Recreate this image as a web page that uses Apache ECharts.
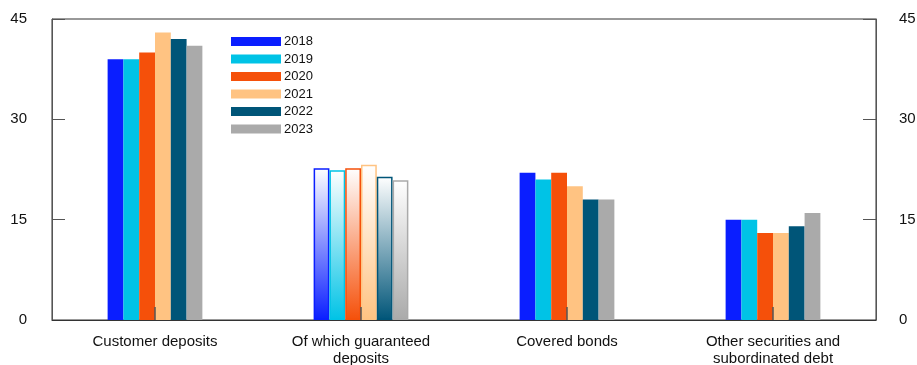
<!DOCTYPE html>
<html>
<head>
<meta charset="utf-8">
<script src="https://cdn.jsdelivr.net/npm/echarts@6/dist/echarts.min.js"></script>
<style>
  html, body { margin: 0; padding: 0; background: #fff; }
  #chart { width: 917px; height: 365px; }
</style>
</head>
<body>
<div id="chart"></div>
<script>
// Funding sources by year, per cent
const categories = ['Customer deposits', 'Of which guaranteed\ndeposits', 'Covered bonds', 'Other securities and\nsubordinated debt'];
const years = ['2018', '2019', '2020', '2021', '2022', '2023'];
const colors = ['#0a1eff', '#00c3e6', '#f5500a', '#ffc382', '#005578', '#aaaaaa'];
const values2018 = [39, 22.7, 22, 15];
const values2019 = [39, 22.4, 21, 15];
const values2020 = [40, 22.7, 22, 13];
const values2021 = [43, 23.2, 20, 13];
const values2022 = [42, 21.4, 18, 14];
const values2023 = [41, 20.9, 18, 16];
const yTicks = [0, 15, 30, 45];

const seriesValues = [values2018, values2019, values2020, values2021, values2022, values2023];
// The guaranteed-deposits bars are a subset, drawn with a faded fill
const subsetIndex = 1;

const fadedFill = (c) => ({
  type: 'linear', x: 0, y: 0, x2: 0, y2: 1,
  colorStops: [{ offset: 0, color: '#ffffff' }, { offset: 1, color: c }]
});

const series = years.map((y, i) => ({
  name: y,
  type: 'bar',
  barGap: '0%',
  barCategoryGap: '54%',
  itemStyle: { color: colors[i] },
  data: seriesValues[i].map((v, j) => j === subsetIndex
    ? { value: v, itemStyle: { color: fadedFill(colors[i]), borderColor: colors[i], borderWidth: 1.5 } }
    : v)
}));

const font = 'Liberation Sans, Arial, Helvetica, sans-serif';
const yAxisBase = {
  type: 'value', min: yTicks[0], max: yTicks[yTicks.length - 1], interval: 15,
  splitLine: { show: false },
  axisLine: { show: true, lineStyle: { color: '#555', width: 1 } },
  axisTick: { show: true, inside: true, length: 13, lineStyle: { color: '#555' } },
  axisLabel: { color: '#111', fontSize: 15, fontFamily: font }
};

const chart = echarts.init(document.getElementById('chart'), null, { renderer: 'canvas' });
chart.setOption({
  animation: false,
  color: colors,
  grid: {
    left: 52, right: 41, top: 19, bottom: 45,
    containLabel: false, outerBoundsMode: 'none',
    show: true, borderColor: '#333', borderWidth: 1, backgroundColor: 'transparent'
  },
  legend: {
    data: years,
    orient: 'vertical',
    left: 226, top: 30,
    itemWidth: 50, itemHeight: 9, itemGap: 4.5,
    icon: 'rect',
    textStyle: { fontSize: 13, color: '#111', fontFamily: font, padding: [0, 0, 0, -2] }
  },
  xAxis: {
    type: 'category', data: categories, z: 10,
    axisLine: { lineStyle: { color: '#333', width: 1 } },
    axisTick: { show: true, inside: true, alignWithLabel: true, length: 13, lineStyle: { color: '#555', width: 1.5 } },
    axisLabel: { color: '#111', fontSize: 15, fontFamily: font, margin: 13, lineHeight: 17, interval: 0 }
  },
  yAxis: [
    Object.assign({}, yAxisBase, { position: 'left', axisLabel: Object.assign({}, yAxisBase.axisLabel, { margin: 25 }) }),
    Object.assign({}, yAxisBase, { position: 'right', axisLabel: Object.assign({}, yAxisBase.axisLabel, { margin: 23 }) })
  ],
  series: series
});
</script>
</body>
</html>
